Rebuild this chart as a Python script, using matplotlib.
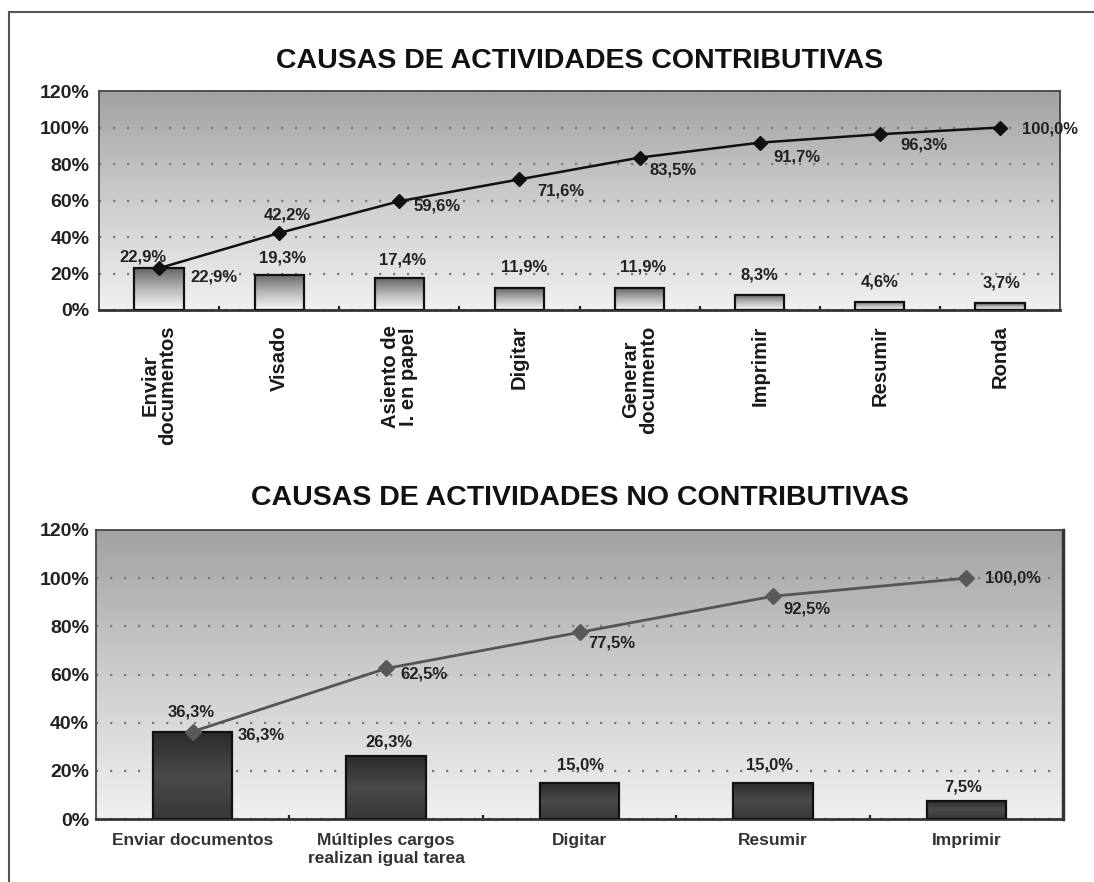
import numpy as np
import matplotlib
matplotlib.use("Agg")
import matplotlib.pyplot as plt
from matplotlib.colors import LinearSegmentedColormap
from matplotlib.lines import Line2D

plt.rcParams['font.family'] = ['Liberation Sans', 'DejaVu Sans']

# ---------------- data ----------------
title_top = "CAUSAS DE ACTIVIDADES CONTRIBUTIVAS"
cats_top = ["Enviar\ndocumentos", "Visado", "Asiento de\nI. en papel", "Digitar",
            "Generar\ndocumento", "Imprimir", "Resumir", "Ronda"]
pct_top = [22.9, 19.3, 17.4, 11.9, 11.9, 8.3, 4.6, 3.7]
cum_top = [22.9, 42.2, 59.6, 71.6, 83.5, 91.7, 96.3, 100.0]

title_bot = "CAUSAS DE ACTIVIDADES NO CONTRIBUTIVAS"
cats_bot = ["Enviar documentos", "Múltiples cargos\nrealizan igual tarea", "Digitar",
            "Resumir", "Imprimir"]
pct_bot = [36.3, 26.3, 15.0, 15.0, 7.5]
cum_bot = [36.3, 62.5, 77.5, 92.5, 100.0]

yticks = [0, 20, 40, 60, 80, 100, 120]

# label placement offsets (pixels, dx right, dy up)
bar_off_top = [(-16, 11), (3, 17), (3, 18), (5, 21), (4, 21), (0, 20), (0, 20), (2, 20)]
cum_off_top = [(55, -9), (8, 18), (38, -5), (41, -12), (34, -12), (37, -14), (44, -11), (50, -1)]
bar_off_bot = [(-2, 20), (3, 14), (1, 18), (-3, 18), (-3, 14)]
cum_off_bot = [(68, -3), (38, -6), (32, -11), (34, -13), (47, 0)]

W, H = 1094, 882
fig = plt.figure(figsize=(W / 100, H / 100), dpi=100)
fig.patch.set_facecolor('white')

# outer frame (left and top edges)
fig.add_artist(Line2D([9 / W, 1.0], [1 - 12 / H, 1 - 12 / H], transform=fig.transFigure,
                      color='#555555', lw=1.5))
fig.add_artist(Line2D([9 / W, 9 / W], [0, 1 - 12 / H], transform=fig.transFigure,
                      color='#555555', lw=1.5))

bg_cmap = LinearSegmentedColormap.from_list('bg', ['#f0f0f0', '#cdcdcd', '#a2a2a2'])
bar_cmap_top = LinearSegmentedColormap.from_list('bt', ['#f8f8f8', '#b8b8b8', '#666666'])
bar_cmap_bot = LinearSegmentedColormap.from_list('bb', ['#383838', '#4a4a4a', '#2a2a2a'])
grad = np.linspace(0, 1, 256).reshape(-1, 1)


def make_chart(rect, cats, pct, cum, title, bar_cmap, line_color, marker_color, ms, lw,
               bar_off, cum_off, title_pad, rotate, ytick_pad, xtick_pad):
    ax = fig.add_axes(rect)
    n = len(cats)
    x = np.arange(n)
    ax.set_xlim(-0.5, n - 0.5)
    ax.set_ylim(0, 120)
    ax.imshow(grad, extent=[0, 1, 0, 1], transform=ax.transAxes, aspect='auto',
              cmap=bg_cmap, origin='lower', zorder=0, interpolation='bilinear')
    ax.set_axisbelow(True)
    ax.yaxis.grid(True, color='#7a7a7a', linestyle=(0, (1, 5.3)), lw=1.6)

    bars = ax.bar(x, pct, width=0.41, facecolor='none', edgecolor='#111111', lw=1.6, zorder=3)
    for b in bars:
        bx, bw, bh = b.get_x(), b.get_width(), b.get_height()
        im = ax.imshow(grad, extent=[bx, bx + bw, 0, bh], aspect='auto', cmap=bar_cmap,
                       origin='lower', zorder=2.5, interpolation='bilinear')
        im.set_clip_path(b)

    ax.plot(x, cum, color=line_color, lw=lw, marker='D', ms=ms,
            markerfacecolor=marker_color, markeredgecolor=marker_color, zorder=4)

    for i in range(n):
        txt = f"{pct[i]:.1f}%".replace('.', ',')
        ax.annotate(txt, (x[i], pct[i]), xytext=bar_off[i], textcoords='offset pixels',
                    ha='center', va='center', fontsize=12, fontweight='bold', color='#222222',
                    zorder=5)
        txt = f"{cum[i]:.1f}%".replace('.', ',')
        ax.annotate(txt, (x[i], cum[i]), xytext=cum_off[i], textcoords='offset pixels',
                    ha='center', va='center', fontsize=12, fontweight='bold', color='#222222',
                    zorder=5, annotation_clip=False)

    ax.set_ylim(0, 120)
    ax.set_xlim(-0.5, n - 0.5)
    ax.set_yticks(yticks)
    ax.set_yticklabels([f"{v}%" for v in yticks], fontsize=14, fontweight='bold', color='#222222')
    ax.tick_params(axis='y', length=0, pad=ytick_pad)
    ax.set_xticks(x)
    if rotate:
        ax.set_xticklabels(cats, rotation=90, fontsize=14.5, fontweight='bold', color='#1a1a1a',
                           ha='center', va='top', multialignment='center', linespacing=0.92)
    else:
        ax.set_xticklabels(cats, fontsize=12.5, fontweight='bold', color='#333333',
                           ha='center', va='top', multialignment='center', linespacing=1.3)
    ax.tick_params(axis='x', which='major', length=0, pad=xtick_pad)
    ax.set_xticks(np.arange(n - 1) + 0.5, minor=True)
    ax.tick_params(axis='x', which='minor', direction='in', length=3, width=1.6, color='#222222')

    for s in ax.spines.values():
        s.set_color('#444444')
        s.set_linewidth(1.3)
    ax.spines['bottom'].set_linewidth(2.0)
    ax.spines['bottom'].set_color('#333333')
    ax.set_title(title, fontsize=20.5, fontweight='bold', color='#111111', pad=title_pad)
    return ax


ax1 = make_chart([99 / W, 1 - 310 / H, 961 / W, 219 / H], cats_top, pct_top, cum_top, title_top,
                 bar_cmap_top, '#111111', '#111111', 7, 1.8, bar_off_top, cum_off_top,
                 16.5, True, 7, 11)
ax2 = make_chart([96 / W, 1 - 819 / H, 967 / W, 289 / H], cats_bot, pct_bot, cum_bot, title_bot,
                 bar_cmap_bot, '#555555', '#595959', 8.5, 2.0, bar_off_bot, cum_off_bot,
                 18, False, 5, 10)
ax2.spines['right'].set_linewidth(2.5)
ax2.spines['right'].set_color('#333333')

fig.savefig("out.png", dpi=100)
